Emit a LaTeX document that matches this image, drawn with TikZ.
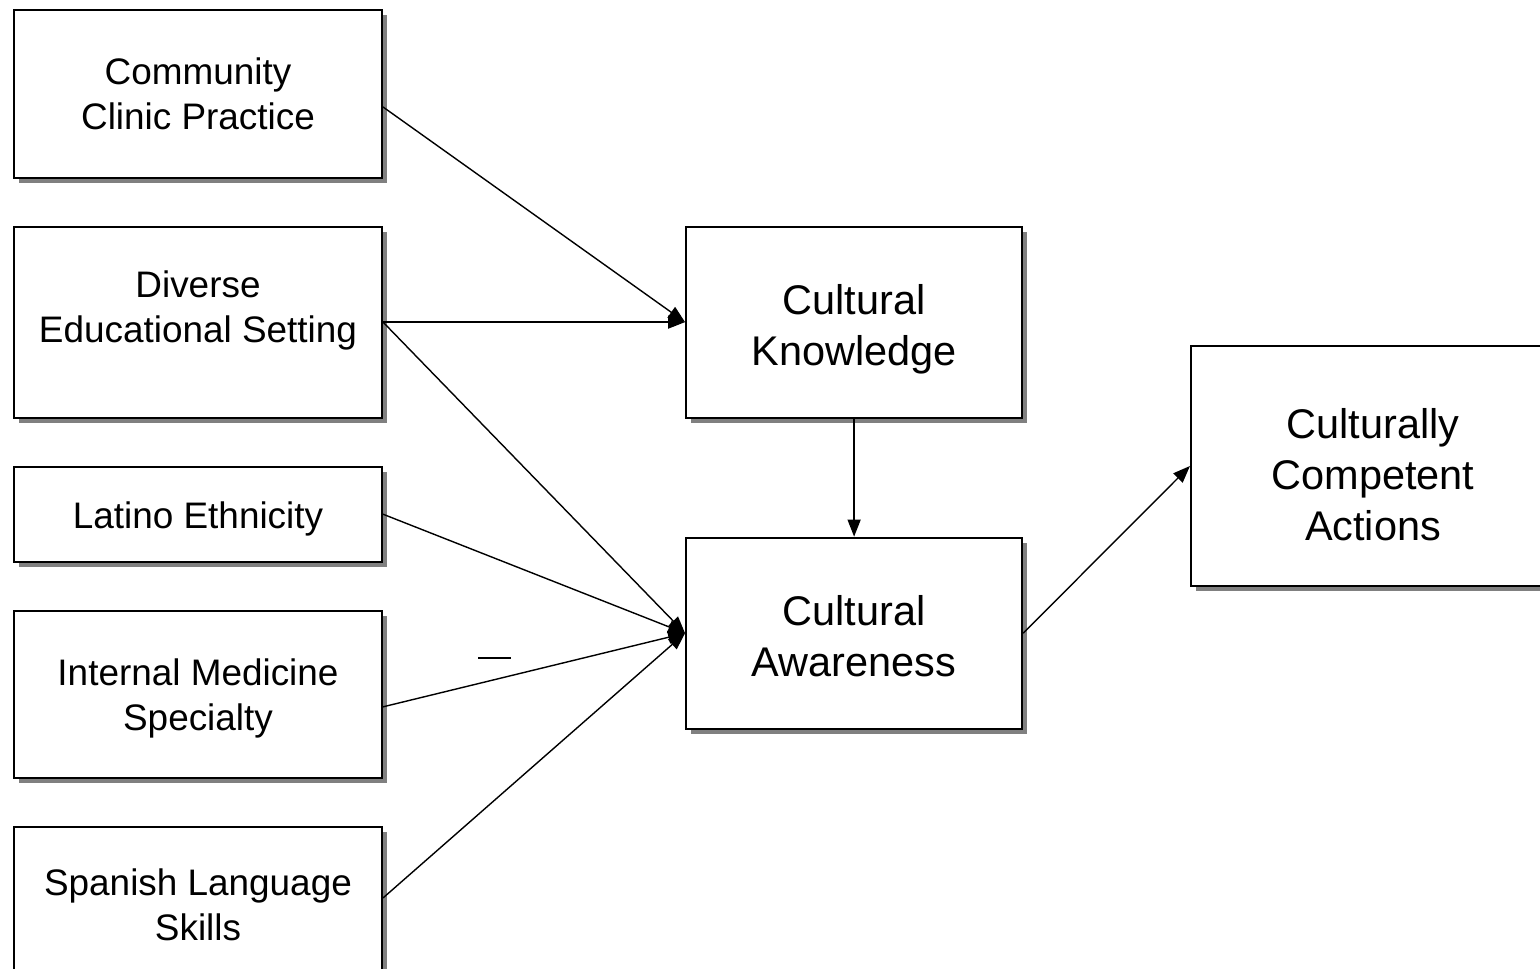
\documentclass[tikz,border=0pt]{standalone}
\usepackage{fontspec}
\setmainfont{Liberation Sans}
\usepackage{xcolor}
\usepackage{tikz}
\usetikzlibrary{arrows.meta, positioning, shadows}

\begin{document}
\begin{tikzpicture}[
  box/.style={draw, line width=1.2pt, fill=white, align=center, minimum width=7.36cm,
    drop shadow={shadow xshift=0.1cm, shadow yshift=-0.1cm, fill=black!50, opacity=1},
    font=\fontsize{21}{25.6}\selectfont},
  bigbox/.style={box, minimum width=6.72cm, minimum height=3.82cm, font=\fontsize{23.6}{29}\selectfont},
  arrow/.style={-{Triangle[length=0.34cm, width=0.26cm]}, line width=0.8pt},
  node distance=0.94cm and 6.04cm
]
\useasboundingbox (0,0) rectangle (30.8,-19.38);
\clip (0,0) rectangle (30.8,-19.38);
\node[box, minimum height=3.36cm] (clinic) at (3.96,-1.88) {Community\\Clinic Practice};
\node[box, minimum height=3.82cm, text depth=0.62cm, below=0.93cm of clinic] (setting) {Diverse\\Educational Setting};
\node[box, minimum height=1.9cm, text height=0.74cm, below=of setting] (latino) {Latino Ethnicity};
\node[box, minimum height=3.34cm, text height=1.6cm, below=of latino] (medicine) {Internal Medicine\\Specialty};
\node[box, minimum height=3.1cm, below=of medicine] (spanish) {Spanish Language\\Skills};
\node[bigbox, text height=1.9cm, right=of setting] (knowledge) {Cultural\\Knowledge};
\node[bigbox, text height=1.75cm, below=2.36cm of knowledge] (awareness) {Cultural\\Awareness};
\node[bigbox, minimum width=7.28cm, minimum height=4.8cm, text height=2.97cm] (actions) at (27.46,-9.32) {Culturally\\Competent\\Actions};
\draw[arrow] ([yshift=-0.26cm]clinic.east) -- (knowledge.west);
\draw[arrow] (setting.east) -- (knowledge.west);
\draw[arrow] (setting.east) -- (awareness.west);
\draw[arrow] (latino.east) -- (awareness.west);
\draw[arrow] ([yshift=-0.25cm]medicine.east) -- (awareness.west);
\draw[arrow] ([yshift=0.13cm]spanish.east) -- (awareness.west);
\draw[arrow] (knowledge) -- (awareness);
\draw[arrow] (awareness.east) -- (actions.west);
\draw[line width=0.8pt] (9.56,-13.16) -- (10.22,-13.16);
\end{tikzpicture}
\end{document}
